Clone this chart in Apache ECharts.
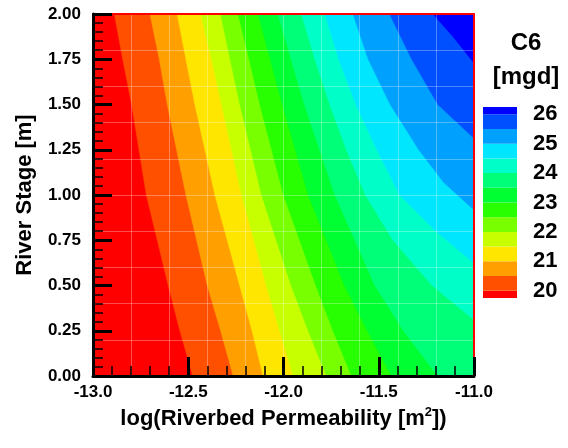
<!DOCTYPE html>
<html><head><meta charset="utf-8">
<script src="https://cdn.jsdelivr.net/npm/echarts@6/dist/echarts.min.js"></script>
<style>html,body{margin:0;padding:0;background:#fff}#c{width:568px;height:448px}</style>
</head><body><div id="c"></div>
<script>
// ---- data ----
// contour lines: [log10 permeability, river stage]
const c20_0 = [[-12.888,2],[-12.844,1.75],[-12.797,1.5],[-12.72,1.0],[-12.605,0.5],[-12.544,0.25],[-12.476,0]];
const c20_5 = [[-12.701,2],[-12.652,1.75],[-12.61,1.5],[-12.512,1.0],[-12.4,0.5],[-12.33,0.25],[-12.264,0]];
const c21_0 = [[-12.558,2],[-12.512,1.75],[-12.465,1.5],[-12.36,1.0],[-12.23,0.5],[-12.165,0.25],[-12.107,0]];
const c21_5 = [[-12.435,2],[-12.378,1.75],[-12.325,1.5],[-12.22,1.0],[-12.09,0.5],[-12.02,0.25],[-11.95,0]];
const c22_0 = [[-12.33,2],[-12.28,1.75],[-12.229,1.5],[-12.115,1.0],[-11.96,0.5],[-11.87,0.25],[-11.775,0]];
const c22_5 = [[-12.238,2],[-12.18,1.75],[-12.124,1.5],[-12.0,1.0],[-11.83,0.5],[-11.74,0.25],[-11.643,0]];
const c23_0 = [[-12.133,2],[-12.07,1.75],[-12.006,1.5],[-11.87,1.0],[-11.68,0.5],[-11.56,0.25],[-11.434,0]];
const c23_5 = [[-12.029,2],[-11.96,1.75],[-11.89,1.5],[-11.73,1.0],[-11.52,0.5],[-11.37,0.25],[-11.19,0]];
const c24_0 = [[-11.906,2],[-11.835,1.75],[-11.757,1.5],[-11.67,1.25],[-11.57,1.0],[-11.425,0.75],[-11.22,0.5],[-11.0,0.31]];
const c24_5 = [[-11.783,2],[-11.71,1.75],[-11.62,1.5],[-11.51,1.25],[-11.39,1.0],[-11.2,0.8],[-11.0,0.625]];
const c25_0 = [[-11.635,2],[-11.555,1.75],[-11.44,1.5],[-11.29,1.25],[-11.16,1.07],[-11.0,0.917]];
const c25_5 = [[-11.443,2],[-11.327,1.75],[-11.19,1.5],[-11.0,1.313]];
const c26_0 = [[-11.216,2],[-11.11,1.875],[-11.0,1.728]];

const contourLevels = [20, 20.5, 21, 21.5, 22, 22.5, 23, 23.5, 24, 24.5, 25, 25.5, 26];
const contourLines = [c20_0, c20_5, c21_0, c21_5, c22_0, c22_5, c23_0, c23_5, c24_0, c24_5, c25_0, c25_5, c26_0];
const belowColor = '#ff0000';
const contourColors = ['#ff5000','#ffa000','#ffe600','#c8ff00','#78ff00','#28ff00','#00ff32','#00ff78','#00ffc8','#00e6ff','#00a0ff','#0050ff','#0000ff'];
const legendLabels = [20, 21, 22, 23, 24, 25, 26];

const xMin = -13, xMax = -11, yMin = 0, yMax = 2;

// ---- chart ----
const FONT = '"Liberation Sans", Arial, Helvetica, sans-serif';
const chart = echarts.init(document.getElementById('c'), null, {renderer: 'canvas'});

const legendBounds = [contourLevels[0] - 1].concat(contourLevels, [contourLevels[contourLevels.length - 1] + 1]);
const legendColors = [belowColor].concat(contourColors);

const option = {
  animation: false,
  title: {
    text: 'C6\n[mgd]',
    left: 521, top: 21, textAlign: 'center',
    textStyle: {fontFamily: FONT, fontWeight: 'bold', fontSize: 24, lineHeight: 34, color: '#000'}
  },
  grid: [
    {left: 93, right: 94, top: 14, bottom: 72, show: true, backgroundColor: belowColor, borderColor: '#000', borderWidth: 1},
    {left: 483, width: 34, top: 107, height: 191, show: false}
  ],
  xAxis: [
    {
      gridIndex: 0, type: 'value', min: xMin, max: xMax, interval: 0.5, position: 'bottom', z: 5,
      axisLine: {show: true, onZero: false, lineStyle: {color: '#000', width: 3}},
      axisTick: {show: true, inside: true, length: 19, lineStyle: {color: '#000', width: 3}},
      minorTick: {show: true, splitNumber: 5, length: 10, lineStyle: {color: '#000', width: 1.5}},
      splitLine: {show: false},
      axisLabel: {formatter: v => v.toFixed(1), fontFamily: FONT, fontWeight: 'bold', fontSize: 17, color: '#000', margin: 8},
      name: 'log(Riverbed Permeability [m{sup|2}])',
      nameLocation: 'middle', nameGap: 25,
      nameTextStyle: {fontFamily: FONT, fontWeight: 'bold', fontSize: 22, color: '#000', lineHeight: 26,
        rich: {sup: {fontFamily: FONT, fontWeight: 'bold', fontSize: 13, lineHeight: 26, verticalAlign: 'top', padding: [0, 0, 12, 0], color: '#000'}}}
    },
    {
      gridIndex: 0, type: 'value', min: xMin, max: xMax, interval: 0.2, position: 'top', z: 4,
      axisLine: {show: true, onZero: false, lineStyle: {color: '#ff0000', width: 2}},
      axisTick: {show: false}, axisLabel: {show: false},
      splitLine: {show: true, lineStyle: {color: 'rgba(255,255,255,0.3)', width: 1}}
    },
    {gridIndex: 1, type: 'value', min: 0, max: 1, show: false}
  ],
  yAxis: [
    {
      gridIndex: 0, type: 'value', min: yMin, max: yMax, interval: 0.25, position: 'left', z: 5,
      axisLine: {show: true, onZero: false, lineStyle: {color: '#000', width: 3}},
      axisTick: {show: true, inside: true, length: 19, lineStyle: {color: '#000', width: 3}},
      minorTick: {show: true, splitNumber: 5, length: 10, lineStyle: {color: '#000', width: 1.5}},
      splitLine: {show: false},
      axisLabel: {formatter: v => v.toFixed(2), fontFamily: FONT, fontWeight: 'bold', fontSize: 17, color: '#000', margin: 12},
      name: 'River Stage [m]', nameLocation: 'middle', nameGap: 57, nameRotate: 90,
      nameTextStyle: {fontFamily: FONT, fontWeight: 'bold', fontSize: 22, color: '#000'}
    },
    {
      gridIndex: 0, type: 'value', min: yMin, max: yMax, interval: 0.2, position: 'right', z: 4,
      axisLine: {show: true, onZero: false, lineStyle: {color: '#ff0000', width: 2}},
      axisTick: {show: false}, axisLabel: {show: false},
      splitLine: {show: true, lineStyle: {color: 'rgba(255,255,255,0.3)', width: 1}}
    },
    {
      gridIndex: 1, type: 'value', min: 19.75, max: 26.25, position: 'right',
      axisLine: {show: false}, axisTick: {show: false}, splitLine: {show: false},
      axisLabel: {customValues: legendLabels, fontFamily: FONT, fontWeight: 'bold', fontSize: 22, color: '#000', margin: 16, padding: [4, 0, 0, 0]}
    }
  ],
  series: [
    {
      type: 'custom', xAxisIndex: 0, yAxisIndex: 0, clip: true, z: 2,
      data: contourLevels.map((lv, i) => [i, lv]),
      renderItem: function (params, api) {
        const i = params.dataIndex;
        const line = contourLines[i].slice();
        const last = line[line.length - 1];
        if (last[0] < xMax) line.push([xMax, yMin]);
        line.push([xMax, yMax]);
        const pts = line.map(p => api.coord(p));
        return {type: 'polygon', shape: {points: pts}, style: {fill: contourColors[i], stroke: contourColors[i], lineWidth: 0.5}};
      }
    },
    {
      type: 'custom', xAxisIndex: 2, yAxisIndex: 2, clip: true,
      data: legendColors.map((c, i) => [i]),
      renderItem: function (params, api) {
        const i = params.dataIndex;
        const p1 = api.coord([0, legendBounds[i + 1]]);
        const p2 = api.coord([1, legendBounds[i]]);
        return {type: 'rect', shape: {x: p1[0], y: p1[1], width: p2[0] - p1[0], height: p2[1] - p1[1]}, style: {fill: legendColors[i]}};
      }
    }
  ]
};
chart.setOption(option);
</script>
</body></html>
